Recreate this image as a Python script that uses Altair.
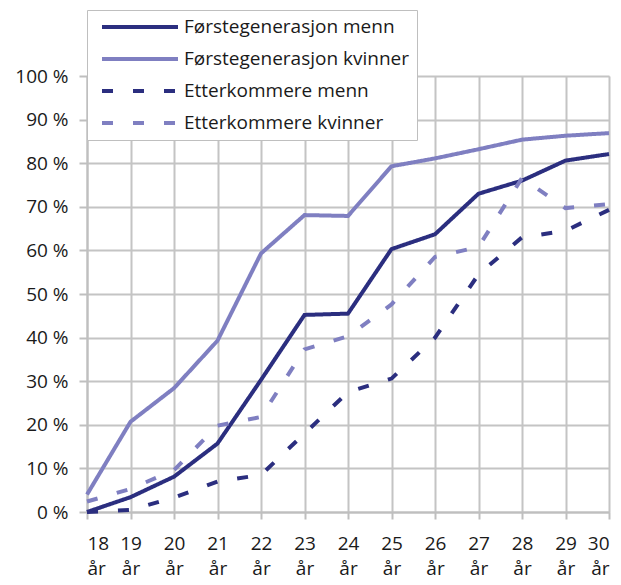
import altair as alt
import pandas as pd

ages = list(range(18, 31))
series_names = ["Førstegenerasjon menn", "Førstegenerasjon kvinner",
                "Etterkommere menn", "Etterkommere kvinner"]
forste_menn = [0, 3.4, 8.1, 15.7, 30.3, 45.2, 45.5, 60.3, 63.7, 73.0, 76.0, 80.6, 82.1]
forste_kvinner = [4.0, 20.7, 28.4, 39.3, 59.3, 68.1, 67.9, 79.3, 81.1, 83.2, 85.4, 86.3, 86.9]
etter_menn = [0, 0.5, 3.3, 7.0, 8.5, 18.0, 27.5, 30.6, 40.0, 54.5, 63.0, 64.5, 69.3]
etter_kvinner = [2.4, 5.3, 9.6, 19.8, 21.8, 37.3, 40.3, 47.6, 58.5, 60.8, 76.6, 69.7, 70.6]

colors = ["#2B2E7F", "#7F7FC1", "#2B2E7F", "#7F7FC1"]
dashes = [[1, 0], [1, 0], [11, 20], [11, 20]]

rows = []
for name, vals in zip(series_names, [forste_menn, forste_kvinner, etter_menn, etter_kvinner]):
    for a, v in zip(ages, vals):
        rows.append({"alder": a, "andel": v, "serie": name})
df = pd.DataFrame(rows)

FONT = "Open Sans"

chart = alt.Chart(df).mark_line(strokeWidth=4, strokeCap="butt", strokeJoin="miter").encode(
    x=alt.X("alder:Q", scale=alt.Scale(domain=[18, 30], nice=False, zero=False),
            axis=alt.Axis(values=ages, title=None,
                          labelExpr="[datum.value, 'år']",
                          labelFontSize=19, labelFont=FONT, labelColor="#1a1a1a",
                          labelLineHeight=25, labelPadding=15,
                          tickSize=7, tickColor="#BFBFBF", tickWidth=2,
                          domainColor="#BFBFBF", domainWidth=2,
                          gridColor="#C4C4C4", gridWidth=2)),
    y=alt.Y("andel:Q", scale=alt.Scale(domain=[0, 100], nice=False),
            axis=alt.Axis(values=list(range(0, 101, 10)), title=None,
                          labelExpr="datum.value + ' %'",
                          labelFontSize=19, labelFont=FONT, labelColor="#1a1a1a",
                          labelPadding=11, tickSize=8, tickColor="#BFBFBF", tickWidth=2,
                          domainColor="#BFBFBF", domainWidth=2,
                          gridColor="#C4C4C4", gridWidth=2)),
    color=alt.Color("serie:N", scale=alt.Scale(domain=series_names, range=colors),
                    sort=series_names,
                    legend=alt.Legend(title=None, orient="none", legendX=0, legendY=-66,
                                      symbolType="M-5,0H5", symbolSize=231,
                                      symbolStrokeWidth=4,
                                      labelFontSize=19, labelFont=FONT, labelColor="#1a1a1a",
                                      labelLimit=400,
                                      labelOffset=34, rowPadding=12, padding=7,
                                      symbolOffset=36,
                                      fillColor="white", strokeColor="#BFBFBF")),
    strokeDash=alt.StrokeDash("serie:N", scale=alt.Scale(domain=series_names, range=dashes),
                              sort=series_names, legend=None),
).properties(
    width=522, height=436,
    autosize=alt.AutoSizeParams(type="none"),
    padding={"left": 79, "top": 68, "right": 4, "bottom": 73},
).configure_view(stroke=None).configure(background="white")

chart.save("out.html", embed_options={"renderer": "svg", "actions": False})
